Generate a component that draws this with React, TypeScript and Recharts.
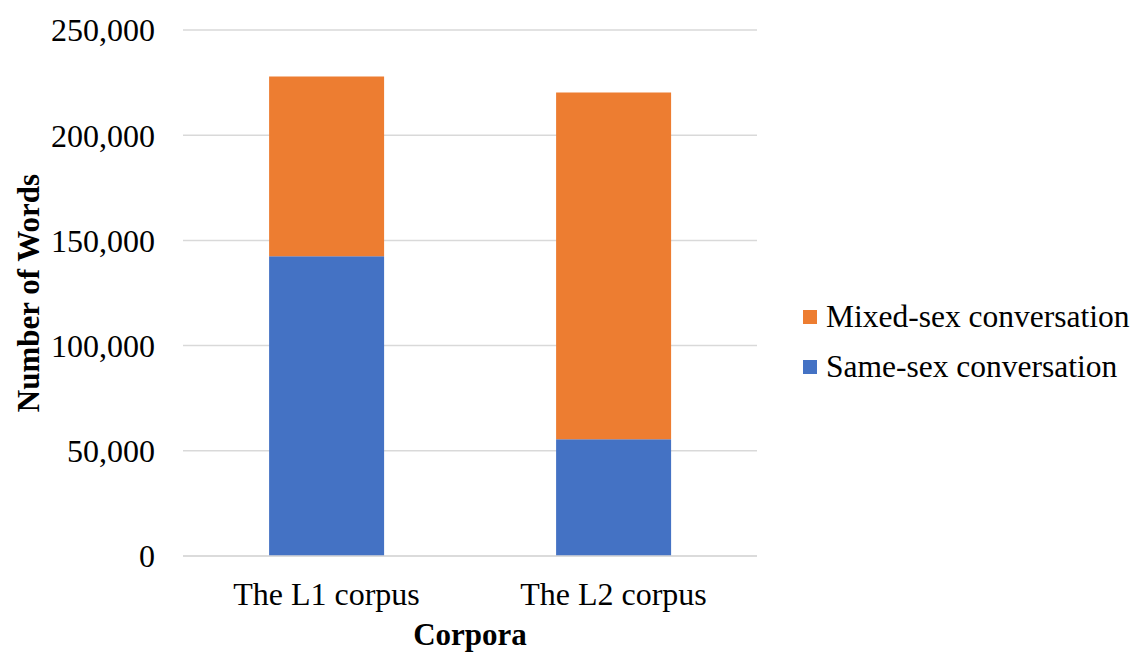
import { BarChart, Bar, XAxis, YAxis, CartesianGrid, Legend } from "recharts";

const corpora = ["The L1 corpus", "The L2 corpus"];
const sameSex = [142500, 55500];
const mixedSex = [85400, 164800];
const yTicks = [0, 50000, 100000, 150000, 200000, 250000];

const ORANGE = "#ED7D31";
const BLUE = "#4472C4";
const GRID = "#d9d9d9";
const FONT = '"Liberation Serif", "Times New Roman", serif';

const data = corpora.map((name, i) => ({
  name,
  same: sameSex[i],
  mixed: mixedSex[i],
}));

// legend lists the top segment first
const legendItems = [
  { label: "Mixed-sex conversation", color: ORANGE },
  { label: "Same-sex conversation", color: BLUE },
];

function LegendBox() {
  return (
    <div style={{ fontFamily: FONT, fontSize: 31.5, color: "#000" }}>
      {legendItems.map((it) => (
        <div
          key={it.label}
          style={{ display: "flex", alignItems: "center", height: 50, whiteSpace: "nowrap" }}
        >
          <span
            style={{ display: "inline-block", width: 14, height: 14, background: it.color, marginRight: 9 }}
          />
          <span style={{ lineHeight: "50px" }}>{it.label}</span>
        </div>
      ))}
    </div>
  );
}

// eslint-disable-next-line @typescript-eslint/no-explicit-any
const YTitle = ({ viewBox }: any) => {
  const cx = 28;
  const cy = viewBox.y + viewBox.height / 2;
  return (
    <text
      x={cx}
      y={cy}
      transform={`rotate(-90, ${cx}, ${cy})`}
      textAnchor="middle"
      dominantBaseline="central"
      fontFamily={FONT}
      fontSize={31}
      fontWeight="bold"
      fill="#000"
    >
      Number of Words
    </text>
  );
};

// eslint-disable-next-line @typescript-eslint/no-explicit-any
const XTitle = ({ viewBox }: any) => (
  <text
    x={viewBox.x + viewBox.width / 2}
    y={645}
    textAnchor="middle"
    fontFamily={FONT}
    fontSize={31}
    fontWeight="bold"
    fill="#000"
  >
    Corpora
  </text>
);

export default function App() {
  return (
    <div style={{ position: "absolute", left: 0, top: 0, background: "#fff" }}>
      <BarChart
        width={1136}
        height={653}
        data={data}
        margin={{ top: 30, right: 379, bottom: 0, left: 0 }}
        barCategoryGap="30%"
      >
        <CartesianGrid vertical={false} stroke={GRID} strokeWidth={1.5} />
        <XAxis
          dataKey="name"
          height={97}
          axisLine={{ stroke: GRID, strokeWidth: 1.5 }}
          tickLine={false}
          tickSize={0}
          tickMargin={26}
          tick={{ fontFamily: FONT, fontSize: 32, fill: "#000" }}
          label={<XTitle />}
        />
        <YAxis
          width={183}
          domain={[0, 250000]}
          ticks={yTicks}
          axisLine={false}
          tickLine={false}
          tickSize={0}
          tickMargin={28}
          tick={{ fontFamily: FONT, fontSize: 32, fill: "#000" }}
          tickFormatter={(v: number) => v.toLocaleString("en-US")}
          label={<YTitle />}
        />
        <Legend
          layout="vertical"
          align="center"
          verticalAlign="middle"
          wrapperStyle={{ left: 803, top: 292, width: "auto" }}
          content={<LegendBox />}
        />
        <Bar dataKey="same" stackId="a" fill={BLUE} isAnimationActive={false} />
        <Bar dataKey="mixed" stackId="a" fill={ORANGE} isAnimationActive={false} />
      </BarChart>
    </div>
  );
}
